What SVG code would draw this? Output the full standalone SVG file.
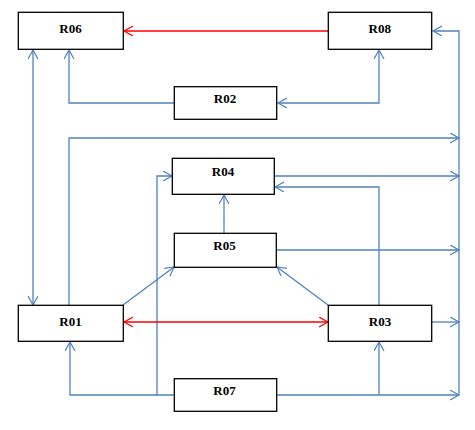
<svg xmlns="http://www.w3.org/2000/svg" width="475" height="430" viewBox="0 0 475 430">
<style>
.box{fill:#fff;stroke:#000;stroke-width:1.3}
.lbl{font-family:"Liberation Serif","Times New Roman",serif;font-weight:bold;font-size:13px;text-anchor:middle;fill:#000}
.b{fill:none;stroke:#4F81BD;stroke-width:1.3}
.r{fill:none;stroke:#FF0000;stroke-width:1.3}
.ab{marker-end:url(#ab)}
.abs{marker-start:url(#ab);marker-end:url(#ab)}
.ar{marker-end:url(#ar)}
.ars{marker-start:url(#ar);marker-end:url(#ar)}
</style>
<defs>
<marker id="ab" markerUnits="userSpaceOnUse" markerWidth="12" markerHeight="12" refX="9" refY="5" orient="auto-start-reverse" viewBox="0 0 12 12"><path d="M0,0 L9,5 L0,10" fill="none" stroke="#4F81BD" stroke-width="1.2"/></marker>
<marker id="ar" markerUnits="userSpaceOnUse" markerWidth="12" markerHeight="12" refX="9" refY="5" orient="auto-start-reverse" viewBox="0 0 12 12"><path d="M0,0 L9,5 L0,10" fill="none" stroke="#FF0000" stroke-width="1.2"/></marker>
</defs>
<rect width="475" height="430" fill="#fff"/>
<g id="connectors">
<path class="r ar" d="M328,31 L124,31"/>
<path class="b ab" d="M174,103 L69,103 L69,50"/>
<path class="b abs" d="M379,50 L379,103 L278,103"/>
<path class="b abs" d="M33,50 L33,305"/>
<path class="b ab" d="M69,305 L69,138 L459,138"/>
<path class="b ab" d="M459,395 L459,31 L433,31"/>
<path class="b ab" d="M274,176 L459,176"/>
<path class="b ab" d="M379,305 L379,187 L275,187"/>
<path class="b ab" d="M224,233 L224,195"/>
<path class="b ab" d="M276,250 L459,250"/>
<path class="b ab" d="M174,395 L157,395 L157,176 L172,176"/>
<path class="b ab" d="M157,395 L70,395 L70,342"/>
<path class="b ab" d="M123,305 L174,267"/>
<path class="b ab" d="M328,305 L277,267"/>
<path class="r ars" d="M124,322 L328,322"/>
<path class="b ab" d="M432,322 L459,322"/>
<path class="b ab" d="M277,395 L459,395"/>
<path class="b ab" d="M379,395 L379,342"/>
</g>
<g id="R06"><rect class="box" x="18.3" y="12.3" width="105" height="37"/><text class="lbl" x="70.5" y="33">R06</text></g>
<g id="R08"><rect class="box" x="328.3" y="12.3" width="103.4" height="37"/><text class="lbl" x="379.8" y="33">R08</text></g>
<g id="R02"><rect class="box" x="174.3" y="86.7" width="102.4" height="32.6"/><text class="lbl" x="225" y="103">R02</text></g>
<g id="R04"><rect class="box" x="172.3" y="158.3" width="102" height="36"/><text class="lbl" x="223" y="176">R04</text></g>
<g id="R05"><rect class="box" x="174.3" y="233.3" width="102" height="34"/><text class="lbl" x="224.5" y="250">R05</text></g>
<g id="R01"><rect class="box" x="18.3" y="305.3" width="105" height="36"/><text class="lbl" x="70.5" y="326">R01</text></g>
<g id="R03"><rect class="box" x="328.3" y="305.3" width="103.4" height="36"/><text class="lbl" x="380" y="326">R03</text></g>
<g id="R07"><rect class="box" x="174.3" y="378.7" width="102.4" height="32.6"/><text class="lbl" x="224.5" y="395">R07</text></g>
</svg>
